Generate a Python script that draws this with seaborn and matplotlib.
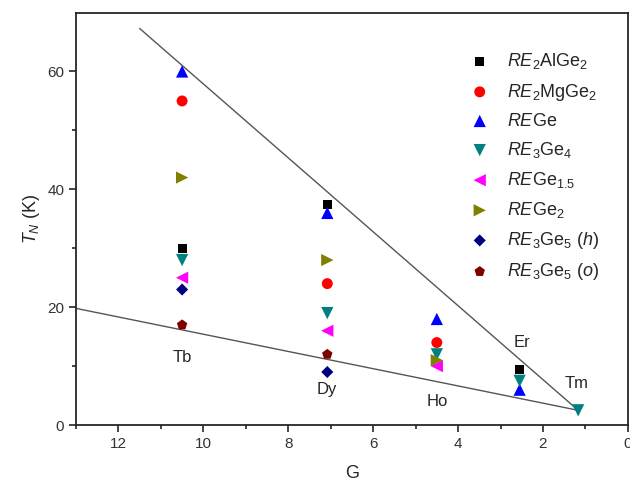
import pandas as pd
import matplotlib
matplotlib.use("Agg")
import matplotlib.pyplot as plt
import seaborn as sns

# de Gennes factor G for each rare earth
elements = ["Tb", "Dy", "Ho", "Er", "Tm"]
g_factor = [10.5, 7.08, 4.5, 2.55, 1.17]

compounds = [
    r"$\mathit{RE}_2\mathrm{AlGe}_2$",
    r"$\mathit{RE}_2\mathrm{MgGe}_2$",
    r"$\mathit{RE}\mathrm{Ge}$",
    r"$\mathit{RE}_3\mathrm{Ge}_4$",
    r"$\mathit{RE}\mathrm{Ge}_{1.5}$",
    r"$\mathit{RE}\mathrm{Ge}_2$",
    r"$\mathit{RE}_3\mathrm{Ge}_5\ (\mathit{h})$",
    r"$\mathit{RE}_3\mathrm{Ge}_5\ (\mathit{o})$",
]

# T_N (K) per compound, per element (None = no data)
tn_re2alge2 = [30, 37.5, None, 9.5, None]
tn_re2mgge2 = [55, 24, 14, None, None]
tn_rege = [60, 36, 18, 6, None]
tn_re3ge4 = [28, 19, 12, 7.5, 2.5]
tn_rege15 = [25, 16, 10, None, None]
tn_rege2 = [42, 28, 11, None, None]
tn_re3ge5_h = [23, 9, None, None, None]
tn_re3ge5_o = [17, 12, None, None, None]

all_tn = [tn_re2alge2, tn_re2mgge2, tn_rege, tn_re3ge4,
          tn_rege15, tn_rege2, tn_re3ge5_h, tn_re3ge5_o]

colors = ["#000000", "#ff0000", "#0000ff", "#008080",
          "#ff00ff", "#808000", "#000080", "#800000"]
markers = ["s", "o", "^", "v", "<", ">", "D", "p"]
sizes = [42, 62, 78, 78, 78, 78, 38, 62]

# guide lines
upper_line_g = [11.5, 1.17]
upper_line_t = [67.3, 2.5]
lower_line_g = [13.0, 1.17]
lower_line_t = [19.8, 2.5]

# element label positions
label_g = [10.5, 7.08, 4.5, 2.5, 1.2]
label_t = [11.5, 6.0, 4.0, 14.0, 7.0]

sns.set_style("ticks")
plt.rcParams["font.family"] = ["Liberation Sans", "DejaVu Sans"]
plt.rcParams["mathtext.fontset"] = "custom"
plt.rcParams["mathtext.rm"] = "Liberation Sans"
plt.rcParams["mathtext.it"] = "Liberation Sans:italic"

fig = plt.figure(figsize=(6.3, 4.83), dpi=100)
ax = fig.add_axes([0.1206, 0.12, 0.876, 0.854])

ax.plot(upper_line_g, upper_line_t, color="#555555", lw=1)
ax.plot(lower_line_g, lower_line_t, color="#555555", lw=1)

for comp, tns, c, m, s in zip(compounds, all_tn, colors, markers, sizes):
    df = pd.DataFrame({"G": g_factor, "TN": tns}).dropna()
    sns.scatterplot(data=df, x="G", y="TN", color=c, marker=m, s=s,
                    edgecolor="none", label=comp, ax=ax, zorder=3)

for name, g, t in zip(elements, label_g, label_t):
    ax.text(g, t, name, ha="center", va="center", fontsize=12)

ax.set_xlim(13, 0)
ax.set_ylim(0, 70)
ax.set_xticks([12, 10, 8, 6, 4, 2, 0])
ax.set_yticks([0, 20, 40, 60])
ax.set_xticks([13, 11, 9, 7, 5, 3, 1], minor=True)
ax.set_yticks([10, 30, 50], minor=True)
ax.tick_params(which="major", direction="out", length=5, width=1.2,
               labelsize=11, labelcolor="#333333")
ax.tick_params(which="minor", direction="out", length=3, width=1.2)
for sp in ax.spines.values():
    sp.set_linewidth(1.3)
ax.set_xlabel("G", fontsize=13, labelpad=10)
ax.set_ylabel(r"$\mathit{T}_N$ (K)", fontsize=13)

ax.legend(loc="upper right", bbox_to_anchor=(0.977, 0.945), frameon=False,
          fontsize=13, handletextpad=0.5, labelspacing=0.56)

fig.savefig("out.png", dpi=100)
